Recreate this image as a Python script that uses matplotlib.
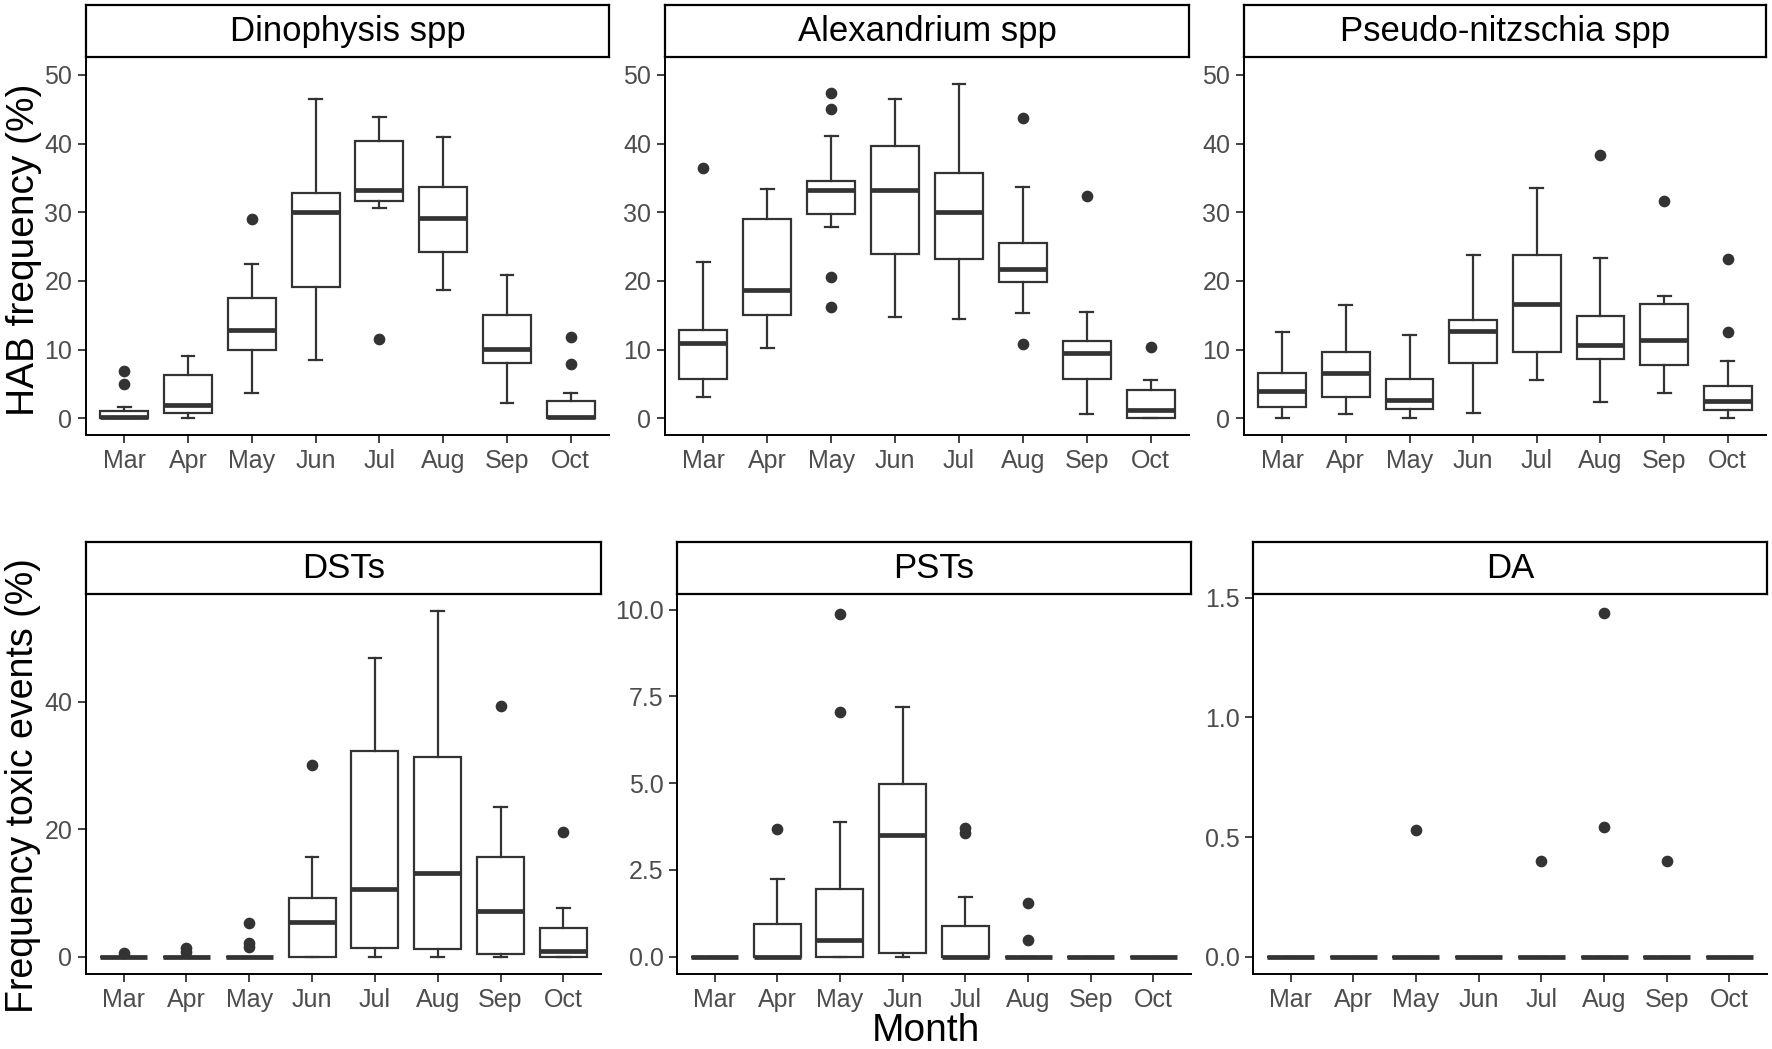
import matplotlib
matplotlib.use("Agg")
import matplotlib.pyplot as plt

plt.rcParams['font.family'] = ['Liberation Sans', 'DejaVu Sans']

months = ["Mar", "Apr", "May", "Jun", "Jul", "Aug", "Sep", "Oct"]

# ---- Dinophysis spp ----
dino_lo  = [0.0, 0.0, 3.6, 8.4, 30.6, 18.6, 2.2, 0.0]
dino_q1  = [0.0, 0.8, 10.0, 19.1, 31.7, 24.2, 8.1, 0.0]
dino_med = [0.1, 1.9, 12.9, 30.0, 33.2, 29.2, 10.05, 0.15]
dino_q3  = [1.1, 6.3, 17.5, 32.8, 40.4, 33.7, 15.0, 2.5]
dino_hi  = [1.6, 9.0, 22.5, 46.5, 43.9, 41.0, 20.9, 3.7]
dino_out = [[5.0, 6.9], [], [29.0], [], [11.55], [], [], [7.9, 11.75]]

# ---- Alexandrium spp ----
alex_lo  = [3.06, 10.2, 27.9, 14.8, 14.5, 15.3, 0.68, 0.0]
alex_q1  = [5.7, 15.05, 29.8, 23.9, 23.2, 19.9, 5.7, 0.0]
alex_med = [10.9, 18.7, 33.2, 33.2, 30.05, 21.7, 9.5, 1.2]
alex_q3  = [12.9, 29.0, 34.5, 39.6, 35.7, 25.5, 11.2, 4.1]
alex_hi  = [22.7, 33.35, 41.1, 46.5, 48.6, 33.6, 15.5, 5.6]
alex_out = [[36.4], [], [47.3, 45.0, 20.5, 16.2], [], [], [43.7, 10.8], [32.3], [10.4]]

# ---- Pseudo-nitzschia spp ----
pn_lo  = [0.0, 0.58, 0.0, 0.78, 5.6, 2.4, 3.7, 0.0]
pn_q1  = [1.65, 3.1, 1.3, 8.0, 9.7, 8.6, 7.8, 1.2]
pn_med = [3.9, 6.65, 2.6, 12.7, 16.65, 10.6, 11.4, 2.5]
pn_q3  = [6.6, 9.66, 5.7, 14.3, 23.7, 14.95, 16.7, 4.7]
pn_hi  = [12.5, 16.55, 12.1, 23.7, 33.5, 23.3, 17.8, 8.35]
pn_out = [[], [], [], [], [], [38.4], [31.7], [12.5, 23.25]]

# ---- DSTs ----
dst_lo  = [0.0, 0.0, 0.0, 0.0, 0.0, 0.0, 0.0, 0.0]
dst_q1  = [0.0, 0.0, 0.0, 0.0, 1.4, 1.2, 0.4, 0.0]
dst_med = [0.0, 0.0, 0.0, 5.5, 10.6, 13.2, 7.2, 0.85]
dst_q3  = [0.0, 0.0, 0.0, 9.25, 32.3, 31.3, 15.7, 4.5]
dst_hi  = [0.0, 0.0, 0.0, 15.7, 46.9, 54.2, 23.5, 7.7]
dst_out = [[0.6], [0.8, 1.4], [1.6, 2.2, 5.3], [30.05], [], [], [39.3], [19.5]]

# ---- PSTs ----
pst_lo  = [0.0, 0.0, 0.0, 0.0, 0.0, 0.0, 0.0, 0.0]
pst_q1  = [0.0, 0.0, 0.0, 0.1, 0.0, 0.0, 0.0, 0.0]
pst_med = [0.0, 0.0, 0.47, 3.5, 0.0, 0.0, 0.0, 0.0]
pst_q3  = [0.0, 0.94, 1.96, 4.98, 0.87, 0.0, 0.0, 0.0]
pst_hi  = [0.0, 2.23, 3.87, 7.2, 1.72, 0.0, 0.0, 0.0]
pst_out = [[], [3.67], [7.06, 9.86], [], [3.56, 3.7], [0.47, 1.54], [], []]

# ---- DA ----
da_lo  = [0.0] * 8
da_q1  = [0.0] * 8
da_med = [0.0] * 8
da_q3  = [0.0] * 8
da_hi  = [0.0] * 8
da_out = [[], [], [0.53], [], [0.40], [0.54, 1.435], [0.40], []]

titles = ["Dinophysis spp", "Alexandrium spp", "Pseudo-nitzschia spp", "DSTs", "PSTs", "DA"]
series = [
    (dino_lo, dino_q1, dino_med, dino_q3, dino_hi, dino_out),
    (alex_lo, alex_q1, alex_med, alex_q3, alex_hi, alex_out),
    (pn_lo, pn_q1, pn_med, pn_q3, pn_hi, pn_out),
    (dst_lo, dst_q1, dst_med, dst_q3, dst_hi, dst_out),
    (pst_lo, pst_q1, pst_med, pst_q3, pst_hi, pst_out),
    (da_lo, da_q1, da_med, da_q3, da_hi, da_out),
]
yticks = [
    [0, 10, 20, 30, 40, 50], [0, 10, 20, 30, 40, 50], [0, 10, 20, 30, 40, 50],
    [0, 20, 40], [0, 2.5, 5.0, 7.5, 10.0], [0, 0.5, 1.0, 1.5],
]
yfmt = ["{:.0f}", "{:.0f}", "{:.0f}", "{:.0f}", "{:.1f}", "{:.1f}"]
ylims = [(-2.45, 52.6), (-2.45, 52.6), (-2.45, 52.6),
         (-2.71, 56.9), (-0.5, 10.45), (-0.072, 1.515)]

W, H = 1772, 1049
fig = plt.figure(figsize=(W / 100, H / 100), dpi=100)

xs = [(86, 609), (665, 1189), (1244, 1766), (86, 601), (677, 1191), (1253, 1767)]
ys_top = (5, 57, 435)
ys_bot = (542, 594, 974)

dark = "#333333"
for i in range(6):
    x0, x1 = xs[i]
    st, at, ab = ys_top if i < 3 else ys_bot
    ax = fig.add_axes([x0 / W, 1 - ab / H, (x1 - x0) / W, (ab - at) / H])
    lo, q1, med, q3, hi, out = series[i]
    stats = []
    for k in range(len(months)):
        stats.append(dict(med=med[k], q1=q1[k], q3=q3[k], whislo=lo[k],
                          whishi=hi[k], fliers=out[k]))
    ax.bxp(stats, positions=range(1, len(months) + 1), widths=0.75,
           capwidths=0.2, patch_artist=True, showfliers=True,
           boxprops=dict(facecolor="white", edgecolor=dark, linewidth=1.6),
           medianprops=dict(color=dark, linewidth=3.4, solid_capstyle="butt"),
           whiskerprops=dict(color=dark, linewidth=1.6),
           capprops=dict(color=dark, linewidth=1.6),
           flierprops=dict(marker="o", markerfacecolor=dark, markeredgecolor=dark,
                           markersize=7.4, linestyle="none"))
    ax.set_xlim(0.4, 8.6)
    ax.set_ylim(*ylims[i])
    ax.set_xticks(range(1, len(months) + 1))
    ax.set_xticklabels(months)
    ax.set_yticks(yticks[i])
    ax.set_yticklabels([yfmt[i].format(v) for v in yticks[i]])
    for s in ["top", "right"]:
        ax.spines[s].set_visible(False)
    for s in ["left", "bottom"]:
        ax.spines[s].set_linewidth(1.4)
        ax.spines[s].set_color("black")
    ax.tick_params(axis="both", length=5.8, width=1.3, color=dark,
                   labelsize=18, labelcolor="#4D4D4D")
    ax.tick_params(axis="x", pad=4.0)
    ax.tick_params(axis="y", pad=4.0)
    # strip
    sax = fig.add_axes([x0 / W, 1 - at / H, (x1 - x0) / W, (at - st) / H])
    sax.set_xticks([])
    sax.set_yticks([])
    for s in sax.spines.values():
        s.set_linewidth(1.6)
        s.set_color("black")
    sax.text(0.5, 0.5, titles[i], ha="center", va="center", fontsize=25,
             color="black", transform=sax.transAxes)

fig.text(34 / W, 1 - 250 / H, "HAB frequency (%)", rotation=90,
         rotation_mode="anchor", ha="center", va="baseline", fontsize=28)
fig.text(33 / W, 1 - 786 / H, "Frequency toxic events (%)", rotation=90,
         rotation_mode="anchor", ha="center", va="baseline", fontsize=27)
fig.text(926 / W, 1 - 1041 / H, "Month", ha="center", va="baseline", fontsize=28)

fig.savefig("out.png", dpi=100)
